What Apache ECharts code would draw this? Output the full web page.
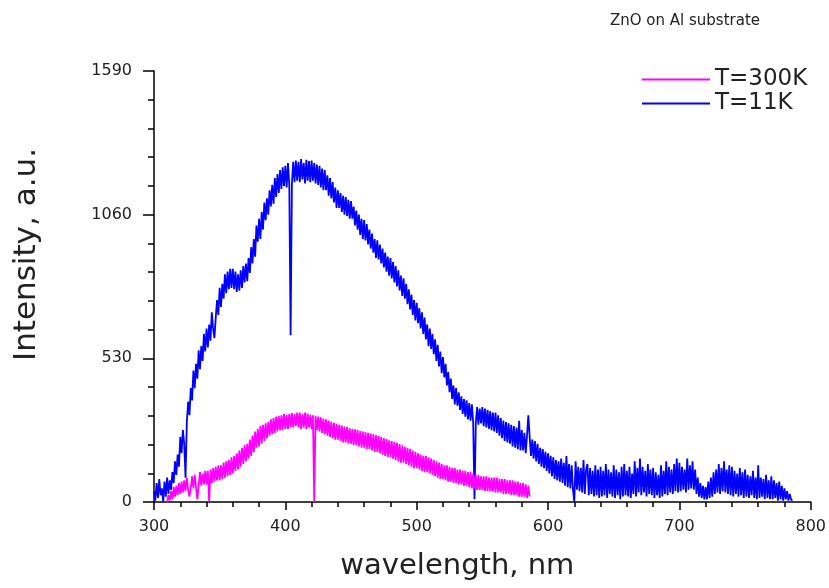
<!DOCTYPE html>
<html>
<head>
<meta charset="utf-8">
<script src="https://cdn.jsdelivr.net/npm/echarts@6/dist/echarts.min.js"></script>
<style>html,body{margin:0;padding:0;background:#fff}#c{width:829px;height:588px}</style>
</head>
<body>
<div id="c"></div>
<script>
// T=11K spectrum, one reading per nm from 300 nm
const blueStart = 300;
const blueStep = 1;
const blueValues = [
  40,5,70,15,85,25,50,0,75,20,
  90,30,80,45,110,70,150,100,175,130,
  240,180,265,215,90,295,370,320,420,375,
  485,420,510,455,560,490,575,520,620,555,
  640,570,655,595,700,640,605,680,745,690,
  790,720,805,750,840,770,850,785,860,790,
  860,785,850,775,840,780,855,790,870,810,
  880,815,900,845,940,880,970,905,1020,960,
  1045,970,1070,1005,1105,1040,1120,1060,1150,1090,
  1170,1100,1195,1125,1210,1140,1225,1155,1235,1165,
  1240,1160,1250,1170,615,1175,1255,1180,1260,1185,
  1255,1180,1265,1190,1250,1175,1262,1185,1258,1180,
  1260,1185,1250,1175,1245,1170,1240,1160,1230,1150,
  1225,1150,1205,1130,1195,1120,1180,1105,1160,1085,
  1150,1085,1140,1070,1130,1060,1125,1055,1115,1045,
  1110,1045,1090,1020,1075,1005,1060,985,1045,970,
  1040,965,1025,950,1005,935,990,920,970,900,
  965,895,950,880,935,865,920,850,905,835,
  900,825,885,810,870,795,855,780,835,760,
  825,750,805,730,785,710,765,690,745,670,
  735,660,715,640,700,620,680,600,655,575,
  640,565,620,545,600,520,580,500,555,475,
  535,460,510,430,480,405,455,380,430,360,
  420,355,405,340,390,325,380,315,375,305,
  365,300,360,295,10,290,350,285,345,290,
  350,280,345,275,340,270,335,265,330,260,
  330,255,320,245,310,235,300,225,295,220,
  290,215,285,205,280,200,275,195,300,190,
  265,190,255,180,245,320,240,170,230,160,
  225,150,215,140,200,130,195,125,185,115,
  180,105,170,95,165,85,155,80,150,75,
  160,70,145,60,170,55,140,50,135,45,
  0,150,45,130,40,125,35,155,30,120,
  140,25,125,30,115,20,135,25,120,15,
  130,20,115,25,140,15,120,30,110,20,
  135,15,120,25,110,10,130,20,140,25,
  115,20,130,15,105,30,150,20,125,35,
  160,25,130,35,115,20,140,30,120,25,
  125,15,110,25,100,15,135,20,115,30,
  150,25,130,35,120,30,140,40,160,35,
  145,40,130,45,120,35,160,45,135,50,
  150,45,120,30,90,20,70,15,60,10,
  55,10,75,15,90,20,110,30,120,35,
  140,30,125,40,150,35,120,30,135,25,
  130,20,115,30,105,20,125,25,110,15,
  120,20,100,15,95,25,115,15,90,10,
  135,15,90,20,85,10,100,15,80,10,
  95,10,80,15,70,5,75,10,60,5,
  50,10,40,5,30,10,5
];
// T=300K spectrum, one reading per nm from 310 nm
const magentaStart = 310;
const magentaStep = 1;
const magentaValues = [
  0,25,5,40,10,55,20,60,25,70,
  30,75,35,80,40,90,45,20,50,95,
  50,100,55,10,60,110,60,105,65,115,
  65,115,0,120,70,125,75,130,80,135,
  80,135,85,145,90,150,95,155,100,165,
  105,170,115,180,120,190,130,200,140,210,
  150,215,160,230,170,245,185,260,200,270,
  205,280,215,285,225,290,235,295,245,305,
  250,310,255,315,260,318,265,320,265,325,
  270,322,270,325,275,328,275,325,280,330,
  275,330,270,325,275,330,270,325,275,322,
  270,320,0,318,265,315,260,312,255,308,
  250,305,245,300,240,296,235,292,230,288,
  230,285,225,282,220,278,220,276,215,272,
  215,270,210,268,210,265,205,262,200,260,
  200,258,195,255,195,252,190,250,185,246,
  185,244,180,240,175,236,170,232,165,228,
  165,225,160,222,155,218,150,214,145,208,
  145,204,140,200,135,195,130,190,125,185,
  125,180,120,175,115,170,110,170,110,165,
  105,160,100,155,95,150,90,145,85,140,
  85,135,80,135,75,130,75,125,70,125,
  70,120,65,120,65,115,60,115,60,110,
  55,110,50,105,50,100,45,100,45,95,
  45,95,40,95,40,90,40,90,40,90,
  35,90,35,85,35,85,30,85,30,80,
  30,80,25,80,25,75,25,75,20,70,
  20,70,20,65,15,60,20
];
const seriesNames = ['T=300K', 'T=11K'];
const titleText = 'ZnO on Al substrate';
const xName = 'wavelength, nm';
const yName = 'Intensity, a.u.';
const yTickLabels = [0, 530, 1060, 1590];

function pairs(start, step, vals) {
  return vals.map((v, i) => [start + i * step, v]);
}

const FONT = 'DejaVu Sans';
const chart = echarts.init(document.getElementById('c'), null, {renderer: 'canvas'});
chart.setOption({
  animation: false,
  backgroundColor: '#fff',
  title: {
    text: titleText, left: 605, top: 9,
    textStyle: {fontFamily: FONT, fontSize: 15, fontWeight: 'normal', color: '#222'}
  },
  legend: {
    data: seriesNames, orient: 'vertical', left: 637, top: 63,
    icon: 'rect', itemWidth: 68, itemHeight: 2, itemGap: 1,
    textStyle: {fontFamily: FONT, fontSize: 23, color: '#222', lineHeight: 23}
  },
  grid: {left: 154, right: 14, top: 71, bottom: 86, containLabel: false},
  xAxis: {
    type: 'value', min: 300, max: 800, interval: 100,
    name: xName, nameLocation: 'middle', nameGap: 50,
    nameTextStyle: {fontFamily: FONT, fontSize: 29, color: '#222', padding: [0, 50, 0, 0]},
    axisLine: {show: true, onZero: false, lineStyle: {color: '#000', width: 1.5}},
    axisTick: {show: true, length: 8, lineStyle: {color: '#000', width: 1.5}},
    minorTick: {show: true, splitNumber: 5, length: 5, lineStyle: {color: '#000', width: 1.5}},
    axisLabel: {fontFamily: FONT, fontSize: 16, color: '#222', margin: 17},
    splitLine: {show: false}
  },
  yAxis: {
    type: 'value', min: 0, max: 1590, interval: 530,
    name: yName, nameLocation: 'middle', nameGap: 112,
    nameTextStyle: {fontFamily: FONT, fontSize: 31, color: '#222', padding: [0, 0, 0, 64]},
    axisLine: {show: true, onZero: false, lineStyle: {color: '#000', width: 1.5}},
    axisTick: {show: true, length: 11, lineStyle: {color: '#000', width: 1.5}},
    minorTick: {show: true, splitNumber: 5, length: 6, lineStyle: {color: '#000', width: 1.5}},
    axisLabel: {fontFamily: FONT, fontSize: 16, color: '#222', margin: 22,
      formatter: v => (yTickLabels.indexOf(v) >= 0 ? String(v) : '')},
    splitLine: {show: false}
  },
  series: [
    {
      name: seriesNames[1], type: 'line', data: pairs(blueStart, blueStep, blueValues),
      showSymbol: false, symbol: 'none', z: 2,
      lineStyle: {color: '#0000FF', width: 1.8}, itemStyle: {color: '#0000FF'}
    },
    {
      name: seriesNames[0], type: 'line', data: pairs(magentaStart, magentaStep, magentaValues),
      showSymbol: false, symbol: 'none', z: 3,
      lineStyle: {color: '#FF00FF', width: 1.8}, itemStyle: {color: '#FF00FF'}
    }
  ]
});
</script>
</body>
</html>
